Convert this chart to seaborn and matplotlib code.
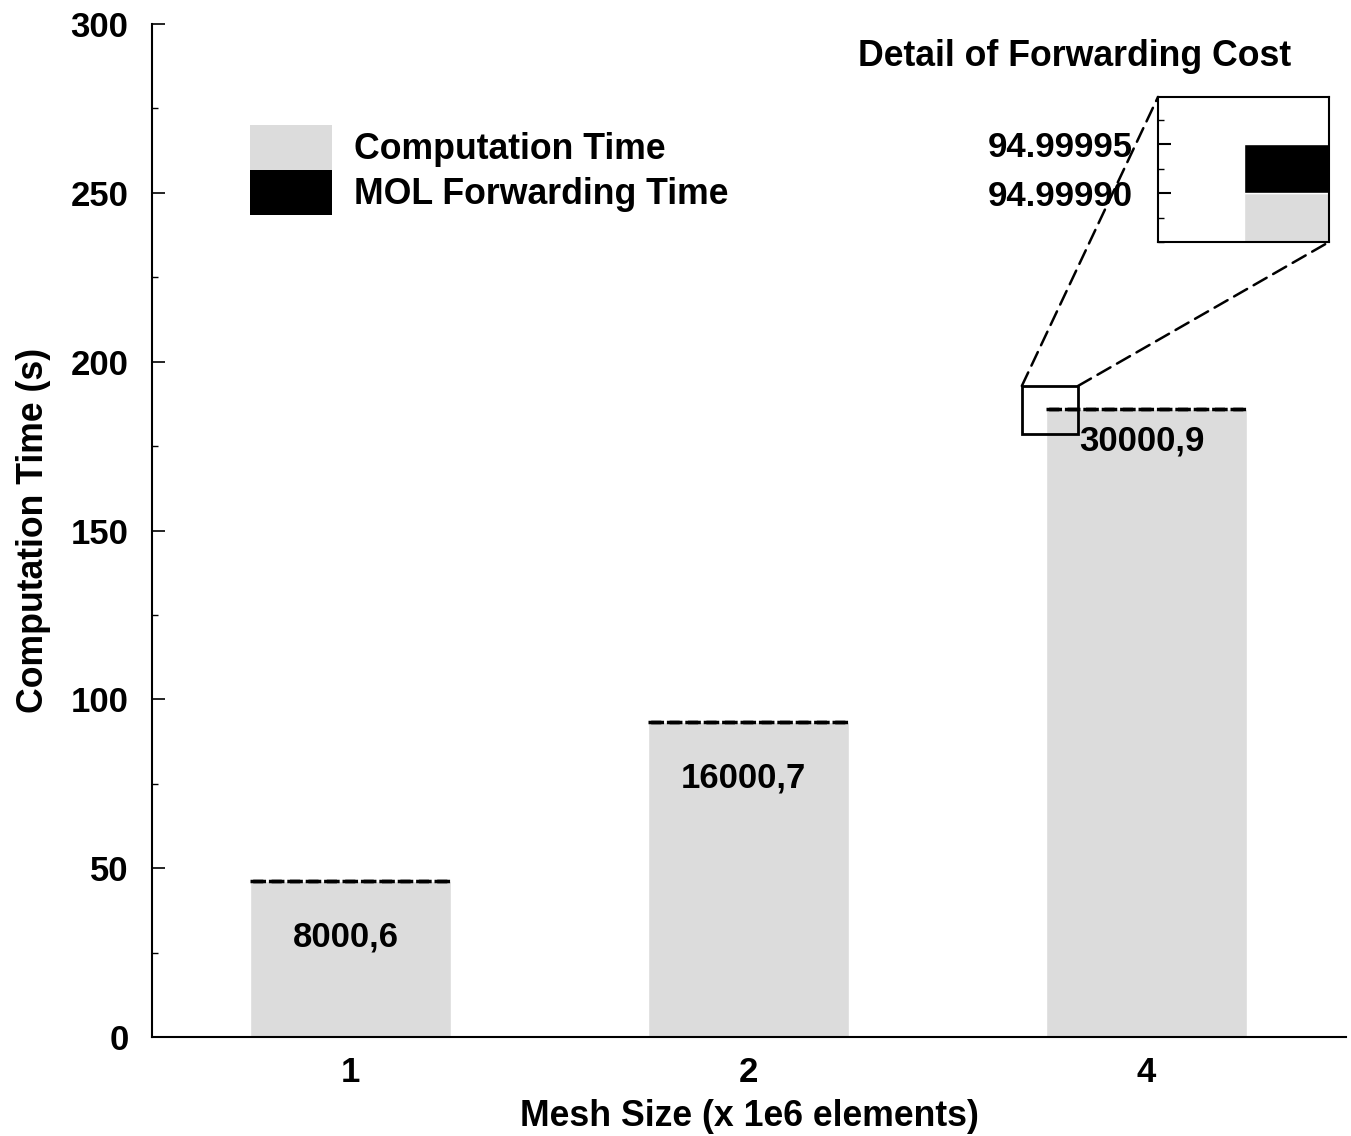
import matplotlib
matplotlib.use("Agg")
import matplotlib.pyplot as plt
from matplotlib.patches import Patch, Rectangle, ConnectionPatch
from matplotlib.ticker import MultipleLocator, FormatStrFormatter
import seaborn as sns

# Mesh sizes (millions of elements) and timings
mesh_sizes = ["1", "2", "4"]
computation_time = [46.2, 93.3, 186.0]
forwarding_time = [0.00005, 0.00005, 0.00005]
bar_labels = ["8000,6", "16000,7", "30000,9"]

# Zoomed detail of the forwarding cost
detail_base = 94.99990
detail_forwarding = 0.00005
detail_ticks = [94.99990, 94.99995]

GRAY = "#dcdcdc"
FS = 25      # tick and value labels
FS_L = 25.7  # axis labels, legend, inset title

sns.set_style("ticks")
plt.rcParams["font.family"] = ["Liberation Sans", "DejaVu Sans"]
plt.rcParams["font.weight"] = "bold"
plt.rcParams["axes.labelweight"] = "bold"
for key in ["text.color", "axes.labelcolor", "xtick.color", "ytick.color",
            "axes.edgecolor"]:
    plt.rcParams[key] = "black"

W, H = 1351, 1136
fig = plt.figure(figsize=(W / 100, H / 100), dpi=100)
ax = fig.add_axes([152 / W, 1 - 1037 / H, (1346 - 152) / W, (1037 - 24) / H])

sns.barplot(x=mesh_sizes, y=computation_time, color=GRAY, width=0.505,
            saturation=1, ax=ax)
pos = list(range(len(mesh_sizes)))
ax.bar(pos, forwarding_time, bottom=computation_time, width=0.505,
       facecolor="black", edgecolor="black", linewidth=2.5, linestyle="--")

# value labels sit inside the bars, below the top edge
label_drop = [-40, -40, -23]
for x, y, lab, dy in zip(pos, computation_time, bar_labels, label_drop):
    ax.annotate(lab, (x, y), xytext=(-3, dy), textcoords="offset points",
                ha="center", va="center", fontsize=FS, fontweight="bold",
                color="black")

ax.set_xlim(-0.4975, 2.5025)
ax.set_ylim(0, 300)
ax.yaxis.set_major_locator(MultipleLocator(50))
ax.yaxis.set_minor_locator(MultipleLocator(25))
ax.tick_params(axis="y", which="major", direction="in", length=9, width=1.2,
               pad=17, labelsize=FS)
ax.tick_params(axis="y", which="minor", direction="in", length=4.5, width=1)
ax.tick_params(axis="x", which="both", length=0, pad=14, labelsize=FS)
for s in ["top", "right"]:
    ax.spines[s].set_visible(False)
for s in ["left", "bottom"]:
    ax.spines[s].set_linewidth(1.5)
    ax.spines[s].set_color("black")
ax.set_xlabel("Mesh Size (x 1e6 elements)", fontsize=FS_L, fontweight="bold",
              labelpad=7)
ax.set_ylabel("Computation Time (s)", fontsize=FS_L, fontweight="bold",
              labelpad=14)

# Legend
handles = [Patch(facecolor=GRAY, edgecolor="none"),
           Patch(facecolor="black", edgecolor="none")]
fig.legend(handles, ["Computation Time", "MOL Forwarding Time"],
           loc="upper left", bbox_to_anchor=(250 / W, 1 - 125 / H),
           frameon=False, fontsize=FS_L, handlelength=2.3, handleheight=1.57,
           handletextpad=0.6, labelspacing=0.0, borderpad=0,
           borderaxespad=0)

# Zoom window on the tallest bar
zoom = Rectangle((1.688, 178.6), 0.141, 14.2, fill=False, edgecolor="black",
                 linewidth=2, zorder=5)
ax.add_patch(zoom)

# Inset detail
axi = fig.add_axes([1158 / W, 1 - 242 / H, (1329 - 1158) / W, (242 - 97) / H])
axi.bar([1], [detail_base], width=1.0, color=GRAY)
axi.bar([1], [detail_forwarding], bottom=[detail_base], width=1.0,
        color="black")
axi.set_xlim(-0.5, 1.5)
axi.set_ylim(94.99985, 94.999998)
axi.set_yticks(detail_ticks)
axi.yaxis.set_minor_locator(MultipleLocator(0.000025))
axi.yaxis.set_major_formatter(FormatStrFormatter("%.5f"))
axi.tick_params(axis="y", which="major", direction="in", length=9, width=1.5,
                pad=18, labelsize=FS)
axi.tick_params(axis="y", which="minor", direction="in", length=4.5, width=1)
axi.set_xticks([])
for s in axi.spines.values():
    s.set_visible(True)
    s.set_linewidth(1.5)
    s.set_color("black")
axi.set_facecolor("white")
fig.text(1075 / W, 1 - 57 / H, "Detail of Forwarding Cost", ha="center",
         va="center", fontsize=FS_L, fontweight="bold")

# Dashed leader lines from the zoom window to the inset
for (xa, ya), (xb, yb) in [((1.688, 192.8), (0, 1)), ((1.829, 192.8), (1, 0))]:
    con = ConnectionPatch(xyA=(xa, ya), coordsA=ax.transData,
                          xyB=(xb, yb), coordsB=axi.transAxes,
                          linestyle=(0, (6, 3)), linewidth=1.8, color="black")
    fig.add_artist(con)

fig.savefig("out.png", dpi=100)
